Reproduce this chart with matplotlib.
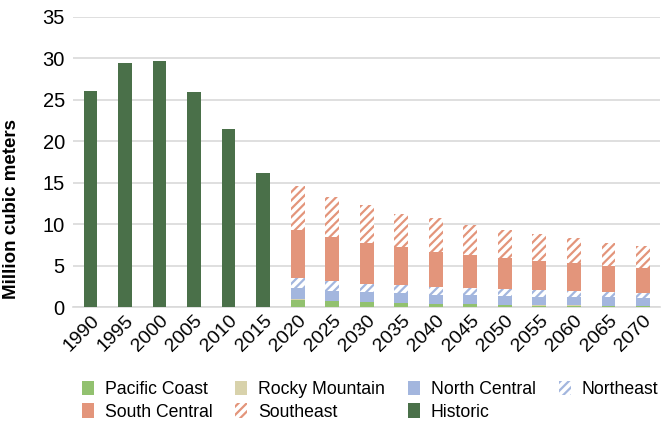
import numpy as np
import matplotlib
matplotlib.use("Agg")
import matplotlib.pyplot as plt
from matplotlib.patches import Patch

plt.rcParams['font.family'] = ['Liberation Sans', 'DejaVu Sans']
plt.rcParams['hatch.linewidth'] = 1.6

years = [1990, 1995, 2000, 2005, 2010, 2015, 2020, 2025, 2030, 2035,
         2040, 2045, 2050, 2055, 2060, 2065, 2070]

# historic removals (1990-2015), zero afterwards
historic = [26.1, 29.4, 29.7, 25.9, 21.5, 16.2] + [0] * 11

# projections by region (2020-2070), zero before
pacific = [0] * 6 + [0.85, 0.70, 0.58, 0.47, 0.32, 0.32, 0.25, 0.18, 0.17, 0.15, 0.13]
rocky = [0] * 6 + [0.08, 0.07, 0.06, 0.05, 0.04, 0.04, 0.03, 0.03, 0.03, 0.03, 0.02]
north_central = [0] * 6 + [1.33, 1.20, 1.20, 1.13, 1.09, 1.09, 1.05, 1.04, 1.05, 0.99, 0.90]
northeast = [0] * 6 + [1.20, 1.20, 1.00, 0.97, 0.92, 0.80, 0.84, 0.80, 0.68, 0.60, 0.60]
south_central = [0] * 6 + [5.83, 5.30, 4.95, 4.65, 4.30, 4.00, 3.70, 3.54, 3.34, 3.18, 3.02]
southeast = [0] * 6 + [5.30, 4.80, 4.50, 4.00, 4.03, 3.70, 3.42, 3.21, 3.01, 2.81, 2.69]

C_PAC = "#92c16f"
C_ROCKY = "#d8d2ab"
C_NC = "#a3b6de"
C_SC = "#e3957b"
C_HIST = "#4a7049"

fig = plt.figure(figsize=(6.71, 4.23), dpi=100)
ax = fig.add_axes([0.109, 0.274, 0.875, 0.686])

x = np.arange(len(years))
w = 0.4
bottom = np.zeros(len(years))

ax.bar(x, historic, w, color=C_HIST, zorder=3)

for vals, style in [
    (pacific, dict(color=C_PAC)),
    (rocky, dict(color=C_ROCKY)),
    (north_central, dict(color=C_NC)),
    (northeast, dict(facecolor="white", edgecolor=C_NC, hatch="////", linewidth=0)),
    (south_central, dict(color=C_SC)),
    (southeast, dict(facecolor="white", edgecolor=C_SC, hatch="////", linewidth=0)),
]:
    v = np.array(vals)
    ax.bar(x, v, w, bottom=bottom, zorder=3, **style)
    bottom += v

ax.set_xlim(-0.5, len(years) - 0.5)
ax.set_ylim(0, 35)
ax.set_yticks(range(0, 36, 5))
ax.yaxis.grid(True, color="#d9d9d9", linewidth=1.2, zorder=0)
ax.set_axisbelow(True)
for s in ["top", "right", "left"]:
    ax.spines[s].set_visible(False)
ax.spines["bottom"].set_color("#d9d9d9")
ax.spines["bottom"].set_linewidth(1.2)
ax.tick_params(axis="both", length=0, colors="black")
ax.tick_params(axis="y", pad=6, labelsize=14.5)
ax.set_xticks(x)
ax.set_xticklabels([str(y) for y in years], rotation=45, ha="right",
                   rotation_mode="anchor", fontsize=14)
ax.set_ylabel("Million cubic meters", fontsize=13.5, fontweight="bold")
ax.yaxis.set_label_coords(-0.09, 0.338)

handles = [
    Patch(facecolor=C_PAC, label="Pacific Coast"),
    Patch(facecolor=C_SC, label="South Central"),
    Patch(facecolor=C_ROCKY, label="Rocky Mountain"),
    Patch(facecolor="white", edgecolor=C_SC, hatch="////", linewidth=0, label="Southeast"),
    Patch(facecolor=C_NC, label="North Central"),
    Patch(facecolor=C_HIST, label="Historic"),
    Patch(facecolor="white", edgecolor=C_NC, hatch="////", linewidth=0, label="Northeast"),
]
fig.legend(handles=handles, loc="lower left", bbox_to_anchor=(0.098, -0.032),
           ncol=4, frameon=False, fontsize=12.7, handlelength=0.7,
           handleheight=0.9, handletextpad=0.6, columnspacing=1.3,
           labelspacing=0.3)

fig.savefig("out.png", dpi=100)
